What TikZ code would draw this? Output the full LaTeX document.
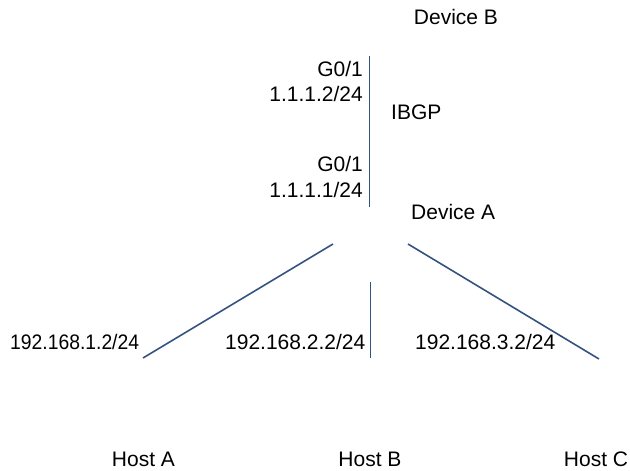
\documentclass[tikz,border=0pt]{standalone}
\usepackage{fontspec}
\setmainfont{Liberation Sans}
\newfontfamily\narrowlbl[FakeStretch=0.92]{Liberation Sans}
\begin{document}
\begin{tikzpicture}[x=1pt,y=-1pt,
  lbl/.style={inner sep=0pt, text height=15pt, text depth=0pt, font=\fontsize{21}{25}\selectfont},
  link/.style={draw=linkblue, line width=1.6pt},
  vlink/.style={draw=linkblue, line width=1.1pt}]
\definecolor{linkblue}{HTML}{34527F}
\useasboundingbox (0,0) rectangle (630,471);
% labels
\node[lbl] (devB) at (456,17) {Device B};
\node[lbl, anchor=east] (g1b) at (363,69) {G0/1};
\node[lbl, anchor=east] (ipB) at (363,94) {1.1.1.2/24};
\node[lbl, anchor=west] (ibgp) at (391,112) {IBGP};
\node[lbl, anchor=east] (g1a) at (363,164) {G0/1};
\node[lbl, anchor=east] (ipA) at (363,190) {1.1.1.1/24};
\node[lbl, anchor=west] (devA) at (411,212) {Device A};
\node[lbl, anchor=west, font=\fontsize{21}{25}\narrowlbl] (ip1) at (10,342) {192.168.1.2/24};
\node[lbl, anchor=west] (ip2) at (225,342) {192.168.2.2/24};
\node[lbl, anchor=west] (ip3) at (415,342) {192.168.3.2/24};
\node[lbl] (hostA) at (143.5,459) {Host A};
\node[lbl] (hostB) at (370,459) {Host B};
\node[lbl] (hostC) at (596,459) {Host C};
% link endpoints
\coordinate (bTop) at (369.5,56);
\coordinate (aTop) at (369.5,207);
\coordinate (aLeft) at (333,244);
\coordinate (hA) at (143,358);
\coordinate (aMid) at (370.5,282);
\coordinate (hB) at (370.5,358);
\coordinate (aRight) at (408,244);
\coordinate (hC) at (599,359);
% links
\draw[vlink] (bTop) -- (aTop);
\draw[link] (aLeft) -- (hA);
\draw[vlink] (aMid) -- (hB);
\draw[link] (aRight) -- (hC);
\end{tikzpicture}
\end{document}
